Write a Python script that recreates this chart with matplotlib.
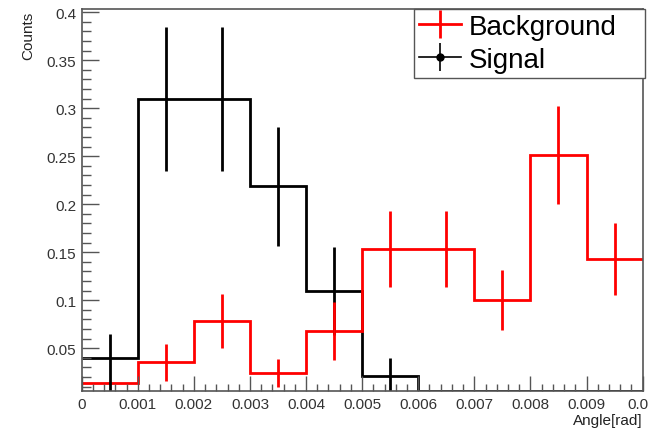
import numpy as np
import matplotlib
matplotlib.use("Agg")
import matplotlib.pyplot as plt
from matplotlib.ticker import MultipleLocator, FuncFormatter

# binning of the angle histograms (10 bins from 0 to 0.01 rad)
bin_edges = [0.0, 0.001, 0.002, 0.003, 0.004, 0.005, 0.006, 0.007, 0.008, 0.009, 0.01]

# normalised counts
signal = [0.0395, 0.310, 0.310, 0.219, 0.110, 0.0215, 0.0, 0.0, 0.0, 0.0]
signal_err_lo = [0.036, 0.075, 0.075, 0.062, 0.046, 0.0185, 0.0, 0.0, 0.0, 0.0]
signal_err_hi = [0.025, 0.075, 0.075, 0.062, 0.046, 0.0185, 0.0, 0.0, 0.0, 0.0]

background = [0.0139, 0.0354, 0.0788, 0.0243, 0.0683, 0.1534, 0.1534, 0.1003, 0.2514, 0.143]
background_err = [0.0, 0.019, 0.028, 0.0145, 0.030, 0.040, 0.040, 0.031, 0.051, 0.038]

YMIN, YMAX = 0.0052, 0.4034

if __name__ == "__main__":
    plt.rcParams["font.family"] = ["Liberation Sans", "DejaVu Sans"]

    fig = plt.figure(figsize=(6.48, 4.31), dpi=100)
    ax = fig.add_axes([0.126, 0.0898, 0.8657, 0.887])

    edges = np.array(bin_edges)
    centers = 0.5 * (edges[:-1] + edges[1:])

    # signal histogram (black); empty bins sit on the frame like in ROOT
    ax.stairs(np.clip(signal, YMIN, None), edges, baseline=None, color="black", lw=2.0)
    ax.errorbar(centers, signal, yerr=[signal_err_lo, signal_err_hi], fmt="none",
                ecolor="black", elinewidth=2.0, capsize=0)

    # background histogram (red), drawn on top
    ax.stairs(background, edges, baseline=None, color="red", lw=2.0)
    ax.errorbar(centers, background, yerr=background_err, fmt="none",
                ecolor="red", elinewidth=2.0, capsize=0)

    ax.set_xlim(edges[0], edges[-1])
    ax.set_ylim(YMIN, YMAX)

    fmt = FuncFormatter(lambda v, p: "%g" % round(v, 6))
    ax.xaxis.set_major_locator(MultipleLocator(0.001))
    ax.xaxis.set_minor_locator(MultipleLocator(0.0002))
    ax.yaxis.set_major_locator(MultipleLocator(0.05))
    ax.yaxis.set_minor_locator(MultipleLocator(0.01))
    ax.xaxis.set_major_formatter(fmt)
    ax.yaxis.set_major_formatter(fmt)

    ax.tick_params(axis="both", which="both", direction="in", color="#555555",
                   labelsize=11, labelcolor="#333333", top=False, right=False)
    ax.tick_params(axis="x", which="major", length=10.5, width=1, pad=4)
    ax.tick_params(axis="x", which="minor", length=5, width=1)
    ax.tick_params(axis="y", which="major", length=12, width=1, pad=4)
    ax.tick_params(axis="y", which="minor", length=6.5, width=1)
    for s in ax.spines.values():
        s.set_color("#555555")
        s.set_linewidth(1.2)

    ax.set_ylabel("Counts", loc="top", fontsize=11, color="#222222")
    ax.yaxis.set_label_coords(-0.083, 0.995)
    ax.set_xlabel("Angle[rad]", loc="right", fontsize=11, color="#222222")
    ax.xaxis.set_label_coords(1.0, -0.058)

    # legend proxies
    h_bkg = ax.errorbar([], [], yerr=[], fmt="-", color="red", lw=2.0, elinewidth=2.0, capsize=0)
    h_sig = ax.errorbar([], [], yerr=[], fmt="-o", color="black", lw=1.2, elinewidth=1.2,
                        markersize=5, capsize=0)
    leg = ax.legend([h_bkg, h_sig], ["Background", "Signal"], loc="upper left", mode="expand",
                    bbox_to_anchor=(414 / 648, 1 - 80 / 431, 231 / 648, 70 / 431),
                    bbox_transform=fig.transFigure,
                    fontsize=20, frameon=True, fancybox=False, framealpha=1, edgecolor="#555555",
                    borderaxespad=0, handlelength=1.5, handletextpad=0.3, labelspacing=0.25,
                    borderpad=0.18)
    leg.get_frame().set_linewidth(1.0)

    plt.savefig("out.png", dpi=100)
    plt.close()
